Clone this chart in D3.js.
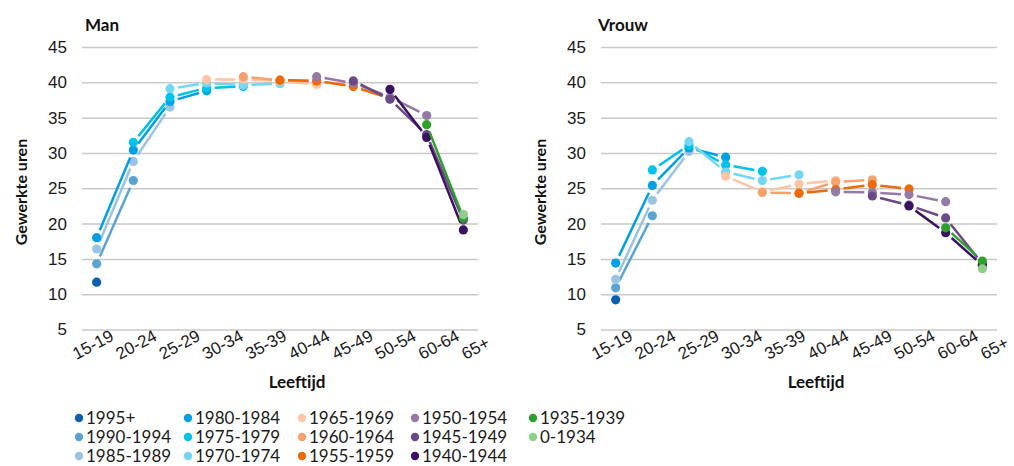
<!DOCTYPE html>
<html>
<head>
<meta charset="utf-8">
<script src="https://cdn.jsdelivr.net/npm/d3@7/dist/d3.min.js"></script>
<style>
  html, body { margin: 0; padding: 0; background: #fff; }
  svg { display: block; font-family: "Lato", "Open Sans", sans-serif; }
</style>
</head>
<body>
<script>
// ---------- DATA ----------
const ageGroups = ["15-19","20-24","25-29","30-34","35-39","40-44","45-49","50-54","55-59","60-64","65+"];
const axisLabels = ["15-19","20-24","25-29","30-34","35-39","40-44","45-49","50-54","60-64","65+"];
const yTicks = [5,10,15,20,25,30,35,40,45];
const cohorts = ["1995+","1990-1994","1985-1989","1980-1984","1975-1979","1970-1974","1965-1969",
                 "1960-1964","1955-1959","1950-1954","1945-1949","1940-1944","1935-1939","0-1934"];
const cohortColors = ["#0b5fad","#5aa3d5","#9bc3e3","#00a0e2","#00c3ec","#73d6f2","#fdc5a3",
                      "#f7a26d","#ec6b08","#957aa6","#6b4886","#3b1262","#2da12b","#8ecf89"];
const n = null;
const manValues = [
  [11.7,n,n,n,n,n,n,n,n,n,n],
  [14.3,26.1,n,n,n,n,n,n,n,n,n],
  [16.4,28.8,36.5,n,n,n,n,n,n,n,n],
  [18.0,30.4,37.3,38.8,n,n,n,n,n,n,n],
  [n,31.5,37.9,39.2,39.4,n,n,n,n,n,n],
  [n,n,39.1,39.9,39.6,39.8,n,n,n,n,n],
  [n,n,n,40.4,40.4,40.2,39.7,n,n,n,n],
  [n,n,n,n,40.8,40.3,40.2,39.5,n,n,n],
  [n,n,n,n,n,40.3,40.2,39.4,37.7,n,n],
  [n,n,n,n,n,n,40.8,39.9,37.9,35.3,n],
  [n,n,n,n,n,n,n,40.2,37.6,32.6,20.5],
  [n,n,n,n,n,n,n,n,39.0,32.2,19.1],
  [n,n,n,n,n,n,n,n,n,34.0,20.8],
  [n,n,n,n,n,n,n,n,n,n,21.3]
];
const vrouwValues = [
  [9.2,n,n,n,n,n,n,n,n,n,n],
  [10.9,21.1,n,n,n,n,n,n,n,n,n],
  [12.1,23.3,30.2,n,n,n,n,n,n,n,n],
  [14.4,25.4,30.7,29.4,n,n,n,n,n,n,n],
  [n,27.6,31.1,28.3,27.4,n,n,n,n,n,n],
  [n,n,31.6,27.3,26.1,26.9,n,n,n,n,n],
  [n,n,n,26.7,24.5,25.6,26.1,n,n,n,n],
  [n,n,n,n,24.4,24.3,25.9,26.2,n,n,n],
  [n,n,n,n,n,24.3,24.8,25.5,24.9,n,n],
  [n,n,n,n,n,n,24.5,24.4,24.1,23.1,n],
  [n,n,n,n,n,n,n,23.9,22.6,20.8,14.3],
  [n,n,n,n,n,n,n,n,22.5,18.7,14.1],
  [n,n,n,n,n,n,n,n,n,19.4,14.7],
  [n,n,n,n,n,n,n,n,n,n,13.6]
];
const panelTitles = ["Man","Vrouw"];
const yTitle = "Gewerkte uren";
const xTitle = "Leeftijd";

// ---------- LAYOUT ----------
const W = 1014, H = 466;
const svg = d3.select("body").append("svg").attr("width", W).attr("height", H);

const panels = [
  {title: panelTitles[0], values: manValues, x0: 82, x1: 478, lab0: 76, lab1: 465, titleX: 85, yTitleX: 21, xTitleX: 297},
  {title: panelTitles[1], values: vrouwValues, x0: 601, x1: 997, lab0: 595, lab1: 984, titleX: 598, yTitleX: 540, xTitleX: 816}
];

const y = d3.scaleLinear().domain([5, 45]).range([329.5, 47]);
const gap = 8;

panels.forEach(p => {
  const g = svg.append("g");
  const x = d3.scalePoint().domain(ageGroups).range([p.x0, p.x1]).padding(0.4);
  const xl = d3.scalePoint().domain(axisLabels).range([p.lab0, p.lab1]);

  // gridlines + y tick labels
  const yAxis = d3.axisLeft(y).tickValues(yTicks).tickSize(-(p.x1 - p.x0)).tickPadding(15).tickFormat(d3.format("d"));
  const ya = g.append("g").attr("transform", `translate(${p.x0},0)`).call(yAxis);
  ya.select(".domain").remove();
  ya.selectAll(".tick line").attr("stroke", "#c9c9c9").attr("stroke-width", 1.5);
  ya.selectAll(".tick text").attr("fill", "#1a1a1a").style("font-size", "17px").attr("x", -15);

  // x labels
  const xAxis = d3.axisBottom(xl).tickSize(0);
  const xa = g.append("g").attr("transform", `translate(0,360)`).call(xAxis);
  xa.select(".domain").remove();
  xa.selectAll(".tick text")
    .attr("y", 0).attr("x", 0).attr("dy", 0)
    .attr("text-anchor", "start")
    .attr("transform", "rotate(-28)")
    .attr("fill", "#1a1a1a")
    .style("font-size", "17px");

  // titles
  g.append("text").attr("x", p.titleX).attr("y", 31).text(p.title)
    .style("font-size", "17px").style("font-weight", "700").attr("fill", "#111");
  g.append("text").attr("transform", `translate(${p.yTitleX},192) rotate(-90)`)
    .attr("text-anchor", "middle").attr("dy", "0.35em").text(yTitle)
    .style("font-size", "16px").style("font-weight", "700").attr("fill", "#111");
  g.append("text").attr("x", p.xTitleX).attr("y", 388).attr("text-anchor", "middle").text(xTitle)
    .style("font-size", "17px").style("font-weight", "700").attr("fill", "#111");

  // series
  p.values.forEach((vals, ci) => {
    const col = cohortColors[ci];
    const pts = vals.map((v, i) => v == null ? null : {x: x(ageGroups[i]), y: y(v)});
    const sg = g.append("g");
    for (let i = 0; i < pts.length - 1; i++) {
      const a = pts[i], b = pts[i + 1];
      if (!a || !b) continue;
      const dx = b.x - a.x, dy = b.y - a.y, L = Math.hypot(dx, dy);
      if (L <= 2 * gap) continue;
      const ux = dx / L, uy = dy / L;
      sg.append("line")
        .attr("x1", a.x + ux * gap).attr("y1", a.y + uy * gap)
        .attr("x2", b.x - ux * gap).attr("y2", b.y - uy * gap)
        .attr("stroke", col).attr("stroke-width", 2.5);
    }
    sg.selectAll("circle").data(pts.filter(d => d)).join("circle")
      .attr("cx", d => d.x).attr("cy", d => d.y).attr("r", 4.6).attr("fill", col);
  });
});

// ---------- LEGEND ----------
const legCols = [79, 188, 302, 415, 533];
const legRows = [418, 437, 456];
const leg = svg.append("g");
cohorts.forEach((c, i) => {
  const col = Math.floor(i / 3), row = i % 3;
  const lx = legCols[col], ly = legRows[row];
  leg.append("circle").attr("cx", lx).attr("cy", ly).attr("r", 4.2).attr("fill", cohortColors[i]);
  leg.append("text").attr("x", lx + 7).attr("y", ly).attr("dy", "0.36em").text(c)
    .style("font-size", "17px").attr("fill", "#1a1a1a");
});
</script>
</body>
</html>
